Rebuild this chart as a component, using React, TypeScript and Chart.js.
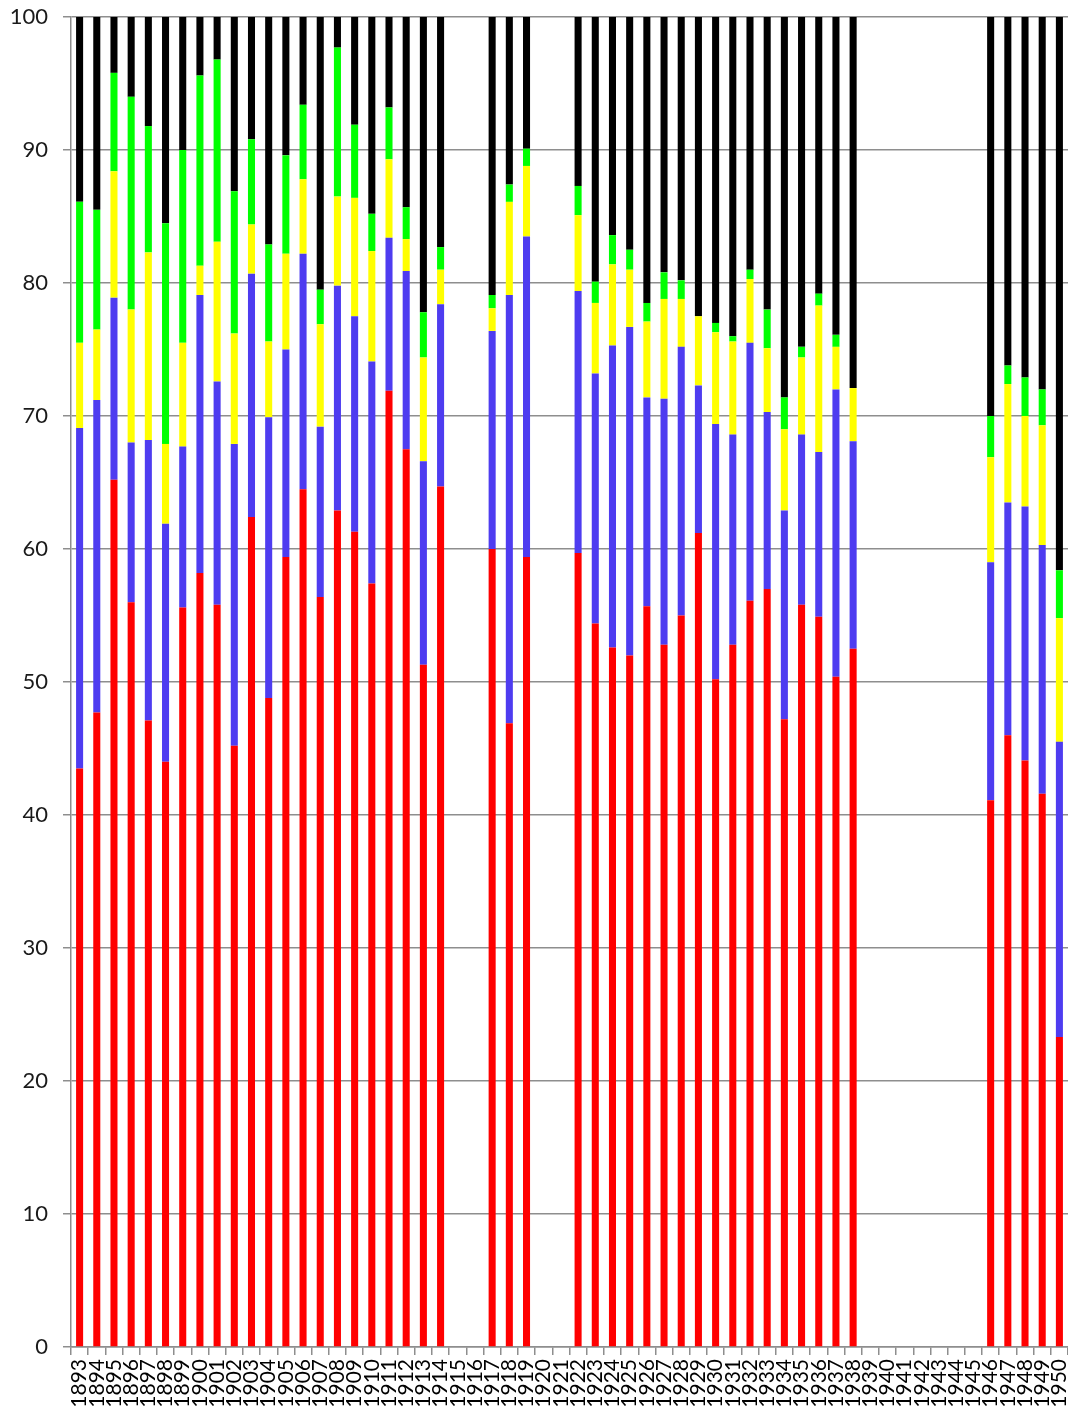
import React, { useEffect, useRef } from "react";
import { Chart, registerables } from "chart.js";

Chart.register(...registerables);

const years = [
  "1893","1894","1895","1896","1897","1898","1899","1900","1901","1902",
  "1903","1904","1905","1906","1907","1908","1909","1910","1911","1912",
  "1913","1914","1915","1916","1917","1918","1919","1920","1921","1922",
  "1923","1924","1925","1926","1927","1928","1929","1930","1931","1932",
  "1933","1934","1935","1936","1937","1938","1939","1940","1941","1942",
  "1943","1944","1945","1946","1947","1948","1949","1950",
];

const redSeries = [
  43.5, 47.7, 65.2, 56.0, 47.1, 44.0, 55.6, 58.2, 55.8, 45.2,
  62.4, 48.8, 59.4, 64.5, 56.4, 62.9, 61.3, 57.4, 71.9, 67.5,
  51.3, 64.7, null, null, 60.0, 46.9, 59.4, null, null, 59.7,
  54.4, 52.6, 52.0, 55.7, 52.8, 55.0, 61.2, 50.2, 52.8, 56.1,
  57.0, 47.2, 55.8, 54.9, 50.4, 52.5, null, null, null, null,
  null, null, null, 41.1, 46.0, 44.1, 41.6, 23.3,
];

const blueSeries = [
  25.6, 23.5, 13.7, 12.0, 21.1, 17.9, 12.1, 20.9, 16.8, 22.7,
  18.3, 21.1, 15.6, 17.7, 12.8, 16.9, 16.2, 16.7, 11.5, 13.4,
  15.3, 13.7, null, null, 16.4, 32.2, 24.1, null, null, 19.7,
  18.8, 22.7, 24.7, 15.7, 18.5, 20.2, 11.1, 19.2, 15.8, 19.4,
  13.3, 15.7, 12.8, 12.4, 21.6, 15.6, null, null, null, null,
  null, null, null, 17.9, 17.5, 19.1, 18.7, 22.2,
];

const yellowSeries = [
  6.4, 5.3, 9.5, 10.0, 14.1, 6.0, 7.8, 2.2, 10.5, 8.3,
  3.7, 5.7, 7.2, 5.6, 7.7, 6.7, 8.9, 8.3, 5.9, 2.4,
  7.8, 2.6, null, null, 1.7, 7.0, 5.3, null, null, 5.7,
  5.3, 6.1, 4.3, 5.7, 7.5, 3.6, 5.2, 6.9, 7.0, 4.8,
  4.8, 6.1, 5.8, 11.0, 3.2, 4.0, null, null, null, null,
  null, null, null, 7.9, 8.9, 6.8, 9.0, 9.3,
];

const greenSeries = [
  10.6, 9.0, 7.4, 16.0, 9.5, 16.6, 14.5, 14.3, 13.7, 10.7,
  6.4, 7.3, 7.4, 5.6, 2.6, 11.2, 5.5, 2.8, 3.9, 2.4,
  3.4, 1.7, null, null, 1.0, 1.3, 1.3, null, null, 2.2,
  1.6, 2.2, 1.5, 1.4, 2.0, 1.4, 0, 0.7, 0.4, 0.7,
  2.9, 2.4, 0.8, 0.9, 0.9, 0, null, null, null, null,
  null, null, null, 3.1, 1.4, 2.9, 2.7, 3.6,
];

const blackSeries = [
  13.9, 14.5, 4.2, 6.0, 8.2, 15.5, 10.0, 4.4, 3.2, 13.1,
  9.2, 17.1, 10.4, 6.6, 20.5, 2.3, 8.1, 14.8, 6.8, 14.3,
  22.2, 17.3, null, null, 20.9, 12.6, 9.9, null, null, 12.7,
  19.9, 16.4, 17.5, 21.5, 19.2, 19.8, 22.5, 23.0, 24.0, 19.0,
  22.0, 28.6, 24.8, 20.8, 23.9, 27.9, null, null, null, null,
  null, null, null, 30.0, 26.2, 27.1, 28.0, 41.6,
];

const seriesColors = ["#FF0000", "#4E3CF0", "#FFFF00", "#00FF00", "#000000"];

export default function App() {
  const canvasRef = useRef<HTMLCanvasElement | null>(null);

  useEffect(() => {
    if (!canvasRef.current) return;
    const allSeries = [redSeries, blueSeries, yellowSeries, greenSeries, blackSeries];
    const gridColor = "#8E8E8E";
    const chart = new Chart(canvasRef.current, {
      type: "bar",
      data: {
        labels: years,
        datasets: allSeries.map((d, i) => ({
          label: "s" + i,
          data: d,
          backgroundColor: seriesColors[i],
          borderWidth: 0,
          barPercentage: 0.41,
          categoryPercentage: 1,
        })),
      },
      options: {
        animation: false,
        responsive: false,
        maintainAspectRatio: false,
        layout: { padding: { top: 17, right: 0, left: 0, bottom: 0 } },
        plugins: { legend: { display: false }, tooltip: { enabled: false } },
        scales: {
          x: {
            stacked: true,
            offset: true,
            grid: {
              display: true,
              offset: true,
              drawOnChartArea: false,
              drawTicks: true,
              tickLength: 8,
              color: gridColor,
              lineWidth: 1.5,
            },
            border: { display: true, color: gridColor, width: 1.5 },
            ticks: {
              autoSkip: false,
              maxRotation: 90,
              minRotation: 90,
              padding: 4,
              color: "#000000",
              font: { family: "Lato", size: 21 },
            },
            afterFit: (scale: any) => {
              scale.height = 80;
              scale.paddingLeft = 0;
              scale.paddingRight = 0;
            },
          },
          y: {
            stacked: true,
            min: 0,
            max: 100,
            ticks: {
              stepSize: 10,
              padding: 15,
              color: "#1A1A1A",
              font: { family: "Lato", size: 22 },
            },
            grid: {
              color: gridColor,
              lineWidth: 1.5,
              tickLength: 8,
              drawTicks: true,
            },
            border: { display: true, color: gridColor, width: 1.5 },
            afterFit: (scale: any) => {
              scale.width = 71;
              scale.paddingTop = 0;
              scale.paddingBottom = 0;
            },
          },
        },
      },
    });
    return () => chart.destroy();
  }, []);

  return (
    <div style={{ position: "absolute", left: 0, top: 0, width: 1068, height: 1427, background: "#ffffff" }}>
      <canvas ref={canvasRef} width={1068} height={1427} style={{ display: "block" }} />
    </div>
  );
}
